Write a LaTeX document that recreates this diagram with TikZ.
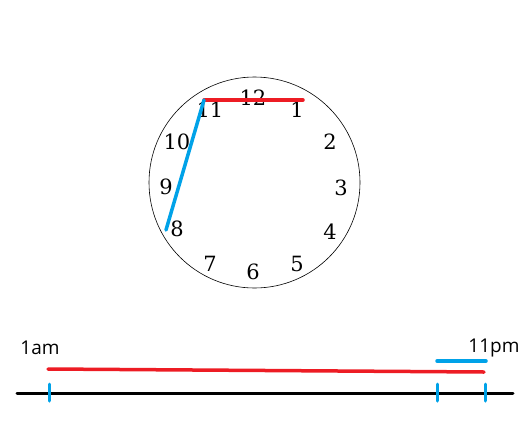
\documentclass[tikz,border=0pt]{standalone}
\usepackage{fontspec}
\setmainfont{DejaVu Serif}
\newfontfamily\labelfont{Open Sans}
\definecolor{hred}{RGB}{237,28,36}
\definecolor{hblue}{RGB}{0,162,232}
\tikzset{
  hour/.style={font=\fontsize{21}{24}\selectfont},
  timelabel/.style={font=\labelfont\fontsize{19}{22}\selectfont},
  redline/.style={draw=hred,line width=3.5pt,line cap=round},
  blueline/.style={draw=hblue,line width=3.5pt,line cap=round},
}
\begin{document}
\begin{tikzpicture}[x=1pt,y=-1pt]
\useasboundingbox (0,0) rectangle (520,432);
\node[draw,circle,minimum size=211pt,inner sep=0pt,line width=0.6pt] (clock) at (254.5,182.5) {};

\foreach \h/\px/\py in {12/253/98,1/297/110,2/330/142,3/341/188,4/330/232,5/297/264,
                        6/253/272,7/210/264,8/177/229,9/166/187,10/177/142,11/210/110}
  \node[hour] (n\h) at (\px,\py) {\h};

\coordinate (top) at (204,100);
\coordinate (rend) at (303,100);
\coordinate (bend) at (166,230);
\draw[redline] (top) -- (rend);
\draw[blueline] (top) -- (bend);

% time line
\coordinate (lstart) at (17,393);
\coordinate (lend) at (513,393);
\draw[line width=3pt,line cap=round] (lstart) -- (lend);

\node[timelabel] (am) at (40,348) {1am};
\node[timelabel] (pm) at (494,348) {11pm};

\foreach \n/\tx in {ta/49,tb/437,tc/485}{
  \coordinate (\n-top) at (\tx,384);
  \coordinate (\n-bot) at (\tx,401);
  \draw[blueline,line width=3pt] (\n-top) -- (\n-bot);
}

\coordinate (ra) at (48,369);
\coordinate (rb) at (484,372);
\draw[redline] (ra) -- (rb);
\coordinate (ba) at (437,361);
\coordinate (bb) at (486,361);
\draw[blueline] (ba) -- (bb);
\end{tikzpicture}
\end{document}
